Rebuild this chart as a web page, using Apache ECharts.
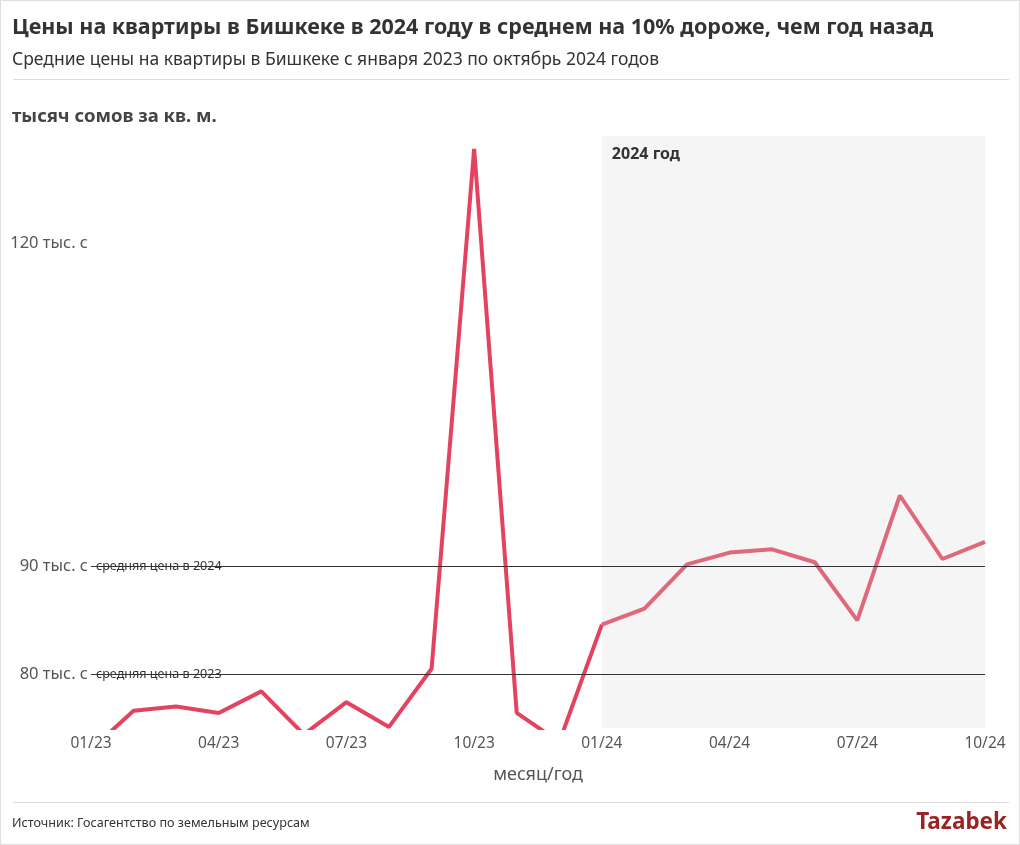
<!DOCTYPE html>
<html>
<head>
<meta charset="utf-8">
<script src="https://cdn.jsdelivr.net/npm/echarts@6/dist/echarts.min.js"></script>
<style>
html,body{margin:0;padding:0;background:#fff;}
#c{width:1020px;height:845px;box-sizing:border-box;border:1px solid #dedede;}
</style>
</head>
<body>
<div id="c"></div>
<script>
var months = ["01/23","02/23","03/23","04/23","05/23","06/23","07/23","08/23","09/23","10/23","11/23","12/23",
              "01/24","02/24","03/24","04/24","05/24","06/24","07/24","08/24","09/24","10/24"];
var prices2023 = [73.0, 76.6, 77.0, 76.4, 78.4, 74.4, 77.4, 75.1, 80.5, 128.8, 76.4, 73.7];
var prices2024 = [84.6, 86.1, 90.2, 91.3, 91.6, 90.4, 85.0, 96.6, 90.7, 92.3];
var avg2023 = 80;
var avg2024 = 90;
var yTickLabels = [80, 90, 120];

var FONT = "'Noto Sans', 'Open Sans', sans-serif";

var s2023 = prices2023.concat([prices2024[0]]);
while (s2023.length < months.length) s2023.push('-');
var s2024 = [];
for (var i = 0; i < prices2023.length; i++) s2024.push('-');
s2024 = s2024.concat(prices2024);

var chart = echarts.init(document.getElementById('c'));
chart.setOption({
  animation: false,
  backgroundColor: '#fff',
  textStyle: { fontFamily: FONT },
  title: [
    { text: 'Цены на квартиры в Бишкеке в 2024 году в среднем на 10% дороже, чем год назад',
      left: 11, top: 16, padding: 0,
      textStyle: { fontFamily: FONT, fontSize: 21.5, fontWeight: 'bold', color: '#333' } },
    { text: 'Средние цены на квартиры в Бишкеке с января 2023 по октябрь 2024 годов',
      left: 11, top: 50, padding: 0,
      textStyle: { fontFamily: FONT, fontSize: 17.5, fontWeight: 'normal', color: '#333' } },
    { text: 'тысяч сомов за кв. м.',
      left: 11, top: 106, padding: 0,
      textStyle: { fontFamily: FONT, fontSize: 18.5, fontWeight: 'bold', color: '#444' } },
    { text: 'Источник: Госагентство по земельным ресурсам',
      left: 11, top: 816, padding: 0,
      textStyle: { fontFamily: FONT, fontSize: 12.6, fontWeight: 'normal', color: '#333' } },
    { text: 'Tazabek',
      right: 12, top: 810, padding: 0,
      textStyle: { fontFamily: FONT, fontSize: 22.5, fontWeight: 'bold', color: '#9a2424' } }
  ],
  graphic: [
    { type: 'line', shape: { x1: 12, y1: 78.5, x2: 1008, y2: 78.5 }, style: { stroke: '#dcdcdc', lineWidth: 1 } },
    { type: 'line', shape: { x1: 12, y1: 801.5, x2: 1008, y2: 801.5 }, style: { stroke: '#dcdcdc', lineWidth: 1 } }
  ],
  grid: { left: 90, right: 34, top: 135, bottom: 116, containLabel: false },
  xAxis: {
    type: 'category',
    data: months,
    boundaryGap: false,
    axisLine: { show: false },
    axisTick: { show: false },
    axisLabel: { interval: 2, color: '#555', fontSize: 15.5, margin: 8, fontFamily: FONT },
    name: 'месяц/год',
    nameLocation: 'middle',
    nameGap: 38,
    nameTextStyle: { color: '#555', fontSize: 18, fontFamily: FONT }
  },
  yAxis: {
    type: 'value',
    min: 75, max: 130, interval: 5,
    axisLine: { show: false },
    axisTick: { show: false },
    splitLine: { show: false },
    axisLabel: {
      color: '#555', fontSize: 16.5, margin: 3, fontFamily: FONT,
      formatter: function (v) { return yTickLabels.indexOf(v) >= 0 ? v + ' тыс. с' : ''; }
    }
  },
  series: [
    {
      type: 'line', name: '2024 area', data: [], z: 1,
      markArea: {
        silent: true,
        itemStyle: { color: '#f5f5f5' },
        label: { show: true, position: 'insideTopLeft', distance: 10, color: '#333', fontSize: 16, fontWeight: 'bold', fontFamily: FONT },
        data: [[{ name: '2024 год', xAxis: '01/24', yAxis: 130 }, { xAxis: '10/24', yAxis: 75 }]]
      }
    },
    {
      type: 'line', name: 'avg', data: [], z: 2,
      markLine: {
        silent: true, symbol: 'none',
        lineStyle: { color: '#333', width: 1, type: 'solid' },
        label: { show: true, position: 'insideStart', distance: [5, -6], color: '#333', fontSize: 12.6, fontFamily: FONT,
                 formatter: function (p) { return p.name; } },
        data: [
          { name: 'средняя цена в 2024', yAxis: avg2024 },
          { name: 'средняя цена в 2023', yAxis: avg2023 }
        ]
      }
    },
    {
      type: 'line', name: '2023', data: s2023, z: 3,
      symbol: 'none', connectNulls: false,
      lineStyle: { color: '#e3435f', width: 4 },
      itemStyle: { color: '#e3435f' }
    },
    {
      type: 'line', name: '2024', data: s2024, z: 3,
      symbol: 'none',
      lineStyle: { color: '#e0687c', width: 4 },
      itemStyle: { color: '#e0687c' }
    }
  ]
});
</script>
</body>
</html>
